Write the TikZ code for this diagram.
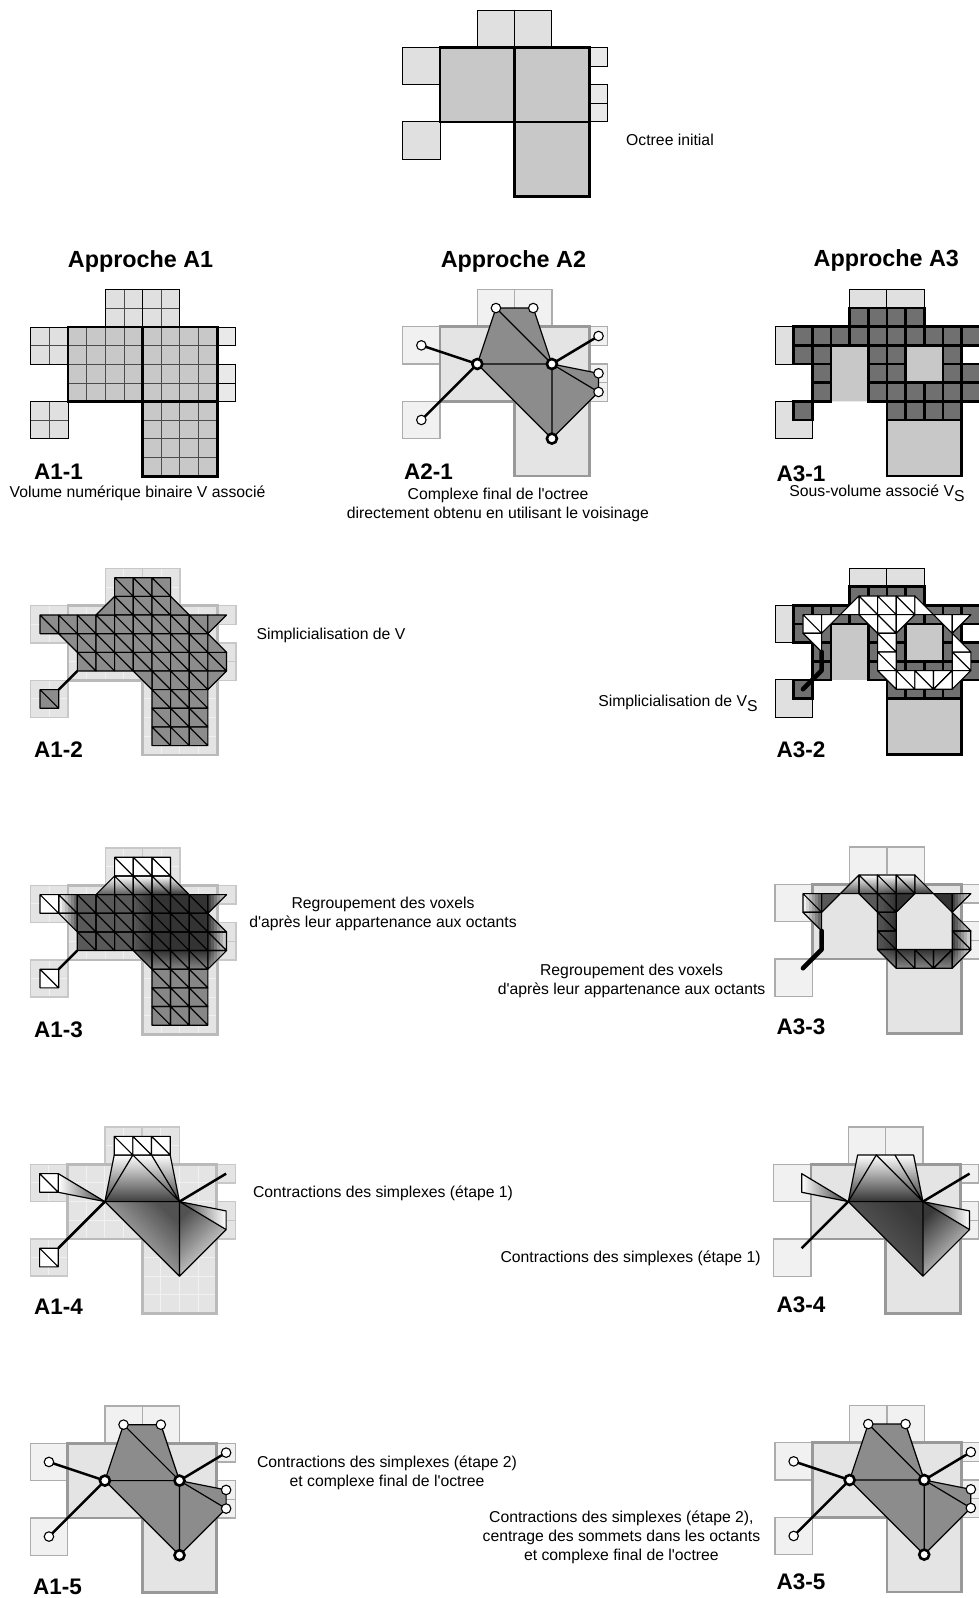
\documentclass[tikz,border=0pt]{standalone}
\usepackage{fontspec}
\setmainfont{Liberation Sans}[Ligatures=TeXOff]
\definecolor{smallgray}{HTML}{E0E0E0}
\definecolor{tinygray}{HTML}{E9E9E9}
\definecolor{biggray}{HTML}{C8C8C8}
\definecolor{palegray}{HTML}{E4E4E4}
\definecolor{faintgray}{HTML}{F1F1F1}
\definecolor{meshgray}{HTML}{8C8C8C}
\definecolor{voxelgray}{HTML}{707070}

\newcommand{\octreeboxes}[1]{
    \foreach \x/\y in {4/-2,6/-2,0/0,0/4} \path[smallcube,#1] (\x,\y) rectangle +(2,2);
    \foreach \y in {0,2,3} \path[tinycube,#1] (10,\y) rectangle +(1,1);
    \foreach \x/\y in {2/0,6/0,6/4} \path[bigcube,#1] (\x,\y) rectangle +(4,4);
}
\newcommand{\octreegrid}{
    \foreach \x/\y in {4/-2,6/-2,0/0,0/4} {
        \draw[innerline] (\x+1,\y) -- +(0,2);
        \draw[innerline] (\x,\y+1) -- +(2,0);
    }
    \foreach \x/\y in {2/0,6/0,6/4} \foreach \k in {1,2,3} {
        \draw[innerline] (\x+\k,\y) -- +(0,4);
        \draw[innerline] (\x,\y+\k) -- +(4,0);
    }
}
\newcommand{\octreepanel}{\octreeboxes{draw=none}\octreegrid\octreeboxes{fill=none}}

\newcommand{\surfacevoxels}{
    \foreach \x/\y in {4/-2,6/-2,0/0,0/4} \path[smallcube] (\x,\y) rectangle +(2,2);
    \fill[biggray] (3,1) rectangle (5,4) (7,1) rectangle (9,3);
    \draw[bigcube] (6,5) rectangle (10,8);
    \foreach \j/\row in {-1/{4,5,6,7},0/{1,2,3,4,5,6,7,8,9,10},1/{1,2,5,6,9},2/{2,5,6,9,10},3/{2,5,6,7,8,9,10},4/{1,6,7,8,9}}
        \foreach \i in \row \draw[voxelbox] (\i,\j) rectangle +(1,1);
}

\newcommand{\squaresfull}{4/-2,5/-2,6/-2,4/-1,5/-1,6/-1,0/0,1/0,2/0,3/0,4/0,5/0,6/0,7/0,8/0,2/1,3/1,4/1,5/1,6/1,7/1,8/1,2/2,3/2,4/2,5/2,6/2,7/2,8/2,9/2,6/3,7/3,8/3,0/4,6/4,7/4,8/4,6/5,7/5,8/5,6/6,7/6,8/6}
\newcommand{\trianglesfull}{3/0/4/-1/4/0,7/-1/7/0/8/0,9/0/10/0/9/1,1/1/2/1/2/2,9/1/9/2/10/2,5/3/6/3/6/4,9/3/10/3/9/4}
\newcommand{\squaresring}{4/-1,5/-1,6/-1,1/0,5/0,5/1,5/2,9/2,6/3,7/3}
\newcommand{\trianglesring}{3/0/4/-1/4/0,7/-1/7/0/8/0,2/0/3/0/2/1,4/0/5/0/5/1,6/0/7/0/6/1,8/0/9/0/9/1,9/0/10/0/9/1,1/1/2/1/2/2,9/1/9/2/10/2,5/3/6/3/6/4,9/3/10/3/9/4,8/3/9/3/8/4,9/3/9/4/8/4}

\newcommand{\flatmesh}[2]{
    \foreach \i/\j in #1 \draw[meshcell] (\i,\j) rectangle +(1,1) (\i,\j) -- +(1,1);
    \foreach \a/\b/\c/\d/\e/\f in #2 \draw[meshcell] (\a,\b) -- (\c,\d) -- (\e,\f) -- cycle;
}
\newcommand{\octval}[3]{\pgfmathsetmacro#1{(#3<0)?0:((#2<2)?0:((#2>=10)?15:((#3>=4)?47:((#2<6)?65:80))))}}
\newcommand{\gradcell}[2]{
    \pgfmathtruncatemacro\inext{#1+1}
    \pgfmathtruncatemacro\jnext{#2+1}
    \octval\vtl{#1}{#2}\octval\vtr{\inext}{#2}\octval\vbl{#1}{\jnext}\octval\vbr{\inext}{\jnext}
    \foreach \k in {0,...,5} {
        \pgfmathsetmacro\xleft{#1+\k/6}
        \pgfmathsetmacro\vtop{\vtl+(\vtr-\vtl)*(\k+.5)/6}
        \pgfmathsetmacro\vbot{\vbl+(\vbr-\vbl)*(\k+.5)/6}
        \shade[top color=black!\vtop,bottom color=black!\vbot] (\xleft,#2) rectangle +(.19,1);
    }
}
\newcommand{\gradmesh}[2]{
    \foreach \i/\j in #1 {
        \begin{scope}
            \clip (\i,\j) rectangle +(1,1);
            \gradcell{\i}{\j}
        \end{scope}
    }
    \foreach \a/\b/\c/\d/\e/\f in #2 {
        \pgfmathtruncatemacro\imin{min(\a,\c,\e)}
        \pgfmathtruncatemacro\jmin{min(\b,\d,\f)}
        \begin{scope}
            \clip (\a,\b) -- (\c,\d) -- (\e,\f) -- cycle;
            \gradcell{\imin}{\jmin}
        \end{scope}
    }
    \foreach \i/\j in #1 \draw[meshedge] (\i,\j) rectangle +(1,1) (\i,\j) -- +(1,1);
    \foreach \a/\b/\c/\d/\e/\f in #2 \draw[meshedge] (\a,\b) -- (\c,\d) -- (\e,\f) -- cycle;
}

\newcommand{\fanmesh}[4]{
    \coordinate (vA) at (4,2);
    \coordinate (vB) at (8,2);
    \coordinate (vC) at (8,6);
    \coordinate (top1) at (4.5,-.5);
    \coordinate (top2) at (5.5,-.5);
    \coordinate (top3) at (6.5,-.5);
    \coordinate (top4) at (7.5,-.5);
    \coordinate (left1) at (1.5,.5);
    \coordinate (left2) at (1.5,1.5);
    \coordinate (left3) at (1.5,4.5);
    \coordinate (right1) at (10.5,.5);
    \coordinate (right2) at (10.5,2.5);
    \coordinate (right3) at (10.5,3.5);
    \shade[top color=white,bottom color=#1] (top1) -- (top4) -- (vB) -- (vA) -- cycle;
    \shade[left color=white,right color=#1] (left1) -- (left2) -- (vA) -- cycle;
    \shade[left color=#1,right color=white] (vB) -- (right2) -- (right3) -- cycle;
    \shade[top color=#2,middle color=#3,bottom color=#3,shading angle=-45] (vA) -- (vB) -- (vC) -- cycle;
    \shade[top color=#2,bottom color=#4,shading angle=45] (vB) -- (right3) -- (vC) -- cycle;
    \draw[meshedge] (top1) -- (top4) -- (vB) -- (vA) -- cycle;
    \draw[meshedge] (vA) -- (top2) -- (vB) (top3) -- (vB);
    \draw[meshedge] (left1) -- (left2) -- (vA) -- cycle;
    \draw[meshedge] (vB) -- (right2) -- (right3) -- cycle;
    \draw[meshedge] (vA) -- (vC) -- (vB) (vC) -- (right3);
    \draw[thickedge] (vA) -- (left3);
    \draw[thickedge] (vB) -- (right1);
}

\newcommand{\finalcomplex}{
    \coordinate (vA) at (4,2);
    \coordinate (vB) at (8,2);
    \coordinate (vC) at (8,6);
    \coordinate (vT1) at (5,-1);
    \coordinate (vT2) at (7,-1);
    \coordinate (vL1) at (1,1);
    \coordinate (vL2) at (1,5);
    \coordinate (vR1) at (10.5,.5);
    \coordinate (vR2) at (10.5,2.5);
    \coordinate (vR3) at (10.5,3.5);
    \fill[meshgray] (vT1) -- (vT2) -- (vB) -- (vR2) -- (vR3) -- (vC) -- (vA) -- cycle;
    \draw[meshedge] (vT1) -- (vT2) -- (vB) -- (vR2) -- (vR3) -- (vC) -- (vA) -- cycle;
    \draw[meshedge] (vT1) -- (vB) -- (vA) (vB) -- (vC) (vB) -- (vR3);
    \draw[thickedge] (vA) -- (vL1);
    \draw[thickedge] (vA) -- (vL2);
    \draw[thickedge] (vB) -- (vR1);
    \foreach \v in {T1,T2,L1,L2,R1,R2,R3} \node[leaf vertex] (n\v) at (v\v) {};
    \foreach \v in {A,B,C} \node[core vertex] (n\v) at (v\v) {};
}

\begin{document}
\begin{tikzpicture}[
        x=1pt,
        y=-1pt,
        voxgrid/.style={x=18.65pt,y=-18.65pt},
        boldoct/.style={
            smallcube/.style={draw=black,line width=1pt,fill=smallgray},
            tinycube/.style={draw=black,line width=.9pt,fill=tinygray},
            bigcube/.style={draw=black,line width=2.8pt,fill=biggray},
            innerline/.style={draw=black!70,line width=.9pt}
        },
        pale grid/.style={
            smallcube/.style={draw=biggray,line width=1.5pt,fill=palegray},
            tinycube/.style={draw=biggray,line width=1.5pt,fill=palegray},
            bigcube/.style={draw=black!27,line width=2.8pt,fill=palegray},
            innerline/.style={draw=faintgray,line width=1pt}
        },
        pale plain/.style={
            smallcube/.style={draw=black!32,line width=1.2pt,fill=faintgray},
            tinycube/.style={draw=black!32,line width=1.2pt,fill=faintgray},
            bigcube/.style={draw=black!40,line width=2.8pt,fill=palegray},
            innerline/.style={draw=none}
        },
        voxelbox/.style={draw=black,line width=2.6pt,fill=voxelgray},
        meshcell/.style={draw=black,line width=1.15pt,line join=round,fill=meshgray},
        white cell/.style={meshcell/.style={draw=black,line width=1.15pt,line join=round,fill=white}},
        meshedge/.style={draw=black,line width=1.2pt,line join=round},
        thickedge/.style={draw=black,line width=2.5pt},
        heavy stem/.style={draw=black,line width=4.6pt,line cap=round,line join=round},
        leaf vertex/.style={circle,draw=black,fill=white,line width=1.1pt,minimum size=9.5pt,inner sep=0pt},
        core vertex/.style={circle,draw=black,fill=white,line width=2.6pt,minimum size=10pt,inner sep=0pt},
        caption/.style={font=\fontsize{15.75}{18.9}\selectfont,align=center,inner sep=0pt,yshift=-2pt},
        column title/.style={font=\fontsize{23.35}{28}\selectfont\bfseries,inner sep=0pt},
        step name/.style={font=\fontsize{22.5}{26}\selectfont\bfseries,anchor=west,inner sep=0pt}
    ]
    \useasboundingbox (0,0) rectangle (979,1598);

    \begin{scope}[shift={(402.7,47.3)},voxgrid,boldoct,innerline/.style={draw=none}]
        \octreepanel
    \end{scope}
    \node[caption] (initial) at (670,137.6) {Octree initial};

    \node[column title] (titleA) at (140.6,261.8) {Approche A1};
    \node[column title] (titleB) at (513.4,261.8) {Approche A2};
    \node[column title] (titleC) at (886.3,260.8) {Approche A3};

    \begin{scope}[shift={(30.7,327)},voxgrid,boldoct]
        \octreepanel
    \end{scope}
    \node[step name] (a11) at (34,471.7) {A1-1};
    \node[caption] (a11text) at (137.5,491.7) {Volume numérique binaire V associé};

    \begin{scope}[shift={(402.7,326.7)},voxgrid,pale plain,name prefix=b1-]
        \octreepanel
        \finalcomplex
    \end{scope}
    \node[step name] (a21) at (404,471.7) {A2-1};
    \node[caption] (a21text) at (498,502.7) {Complexe final de l'octree\\directement obtenu en utilisant le voisinage};

    \begin{scope}[shift={(775,326.7)},voxgrid,boldoct]
        \surfacevoxels
    \end{scope}
    \node[step name] (a31) at (776.3,473.3) {A3-1};
    \node[caption] (a31text) at (877,491) {Sous-volume associé V\raisebox{-5pt}{S}};

    \begin{scope}[shift={(30.7,605.7)},voxgrid,pale grid]
        \octreepanel
        \begin{scope}[shift={(.5,.5)}]
            \flatmesh{\squaresfull}{\trianglesfull}
            \coordinate (stemA) at (1,4);
            \coordinate (stemB) at (2,3);
            \draw[thickedge] (stemA) -- (stemB);
        \end{scope}
    \end{scope}
    \node[step name] (a12) at (34,750) {A1-2};
    \node[caption] (a12text) at (331,633.6) {Simplicialisation de V};

    \begin{scope}[shift={(775,605.3)},voxgrid,boldoct]
        \surfacevoxels
        \begin{scope}[shift={(.5,.5)},white cell]
            \flatmesh{\squaresring}{\trianglesring}
            \coordinate (stemA) at (2,2);
            \coordinate (stemB) at (2,3);
            \coordinate (stemC) at (1,4);
            \draw[heavy stem] (stemA) -- (stemB) -- (stemC);
        \end{scope}
    \end{scope}
    \node[step name] (a32) at (776.3,750) {A3-2};
    \node[caption] (a32text) at (678,701) {Simplicialisation de V\raisebox{-5pt}{S}};

    \begin{scope}[shift={(30.7,885.3)},voxgrid,pale grid]
        \octreepanel
        \begin{scope}[shift={(.5,.5)}]
            \gradmesh{\squaresfull}{\trianglesfull}
            \coordinate (stemA) at (1,4);
            \coordinate (stemB) at (2,3);
            \draw[thickedge] (stemA) -- (stemB);
        \end{scope}
    \end{scope}
    \node[step name] (a13) at (34,1029.3) {A1-3};
    \node[caption] (a13text) at (383,911.8) {Regroupement des voxels\\d'après leur appartenance aux octants};

    \begin{scope}[shift={(775,884.3)},voxgrid,pale plain]
        \octreepanel
        \begin{scope}[shift={(.5,.5)}]
            \gradmesh{\squaresring}{\trianglesring}
            \coordinate (stemA) at (2,2);
            \coordinate (stemB) at (2,3);
            \coordinate (stemC) at (1,4);
            \draw[heavy stem] (stemA) -- (stemB) -- (stemC);
        \end{scope}
    \end{scope}
    \node[step name] (a33) at (776.3,1026.7) {A3-3};
    \node[caption] (a33text) at (631.6,979) {Regroupement des voxels\\d'après leur appartenance aux octants};

    \begin{scope}[shift={(30.3,1164.3)},voxgrid,pale grid]
        \octreepanel
        \fanmesh{black!75}{black!68}{black!18}{black!6}
        \begin{scope}[shift={(.5,.5)},white cell]
            \flatmesh{{4/-2,5/-2,6/-2,0/0,0/4}}{{}}
        \end{scope}
    \end{scope}
    \node[step name] (a14) at (34,1306.7) {A1-4};
    \node[caption] (a14text) at (383,1190.9) {Contractions des simplexes (étape 1)};

    \begin{scope}[shift={(773.7,1164.3)},voxgrid,pale plain]
        \octreepanel
        \fanmesh{black!80}{black!78}{black!60}{black!12}
    \end{scope}
    \node[step name] (a34) at (776.3,1304.3) {A3-4};
    \node[caption] (a34text) at (630.6,1256) {Contractions des simplexes (étape 1)};

    \begin{scope}[shift={(30.3,1443.3)},voxgrid,pale plain,name prefix=c1-]
        \octreepanel
        \finalcomplex
    \end{scope}
    \node[step name] (a15) at (33,1586.7) {A1-5};
    \node[caption] (a15text) at (387,1470.4) {Contractions des simplexes (étape 2)\\et complexe final de l'octree};

    \begin{scope}[shift={(775,1442.7)},voxgrid,pale plain,name prefix=c3-]
        \octreepanel
        \finalcomplex
    \end{scope}
    \node[step name] (a35) at (776.3,1581.3) {A3-5};
    \node[caption] (a35text) at (621.4,1535) {Contractions des simplexes (étape 2),\\centrage des sommets dans les octants\\et complexe final de l'octree};
\end{tikzpicture}
\end{document}
